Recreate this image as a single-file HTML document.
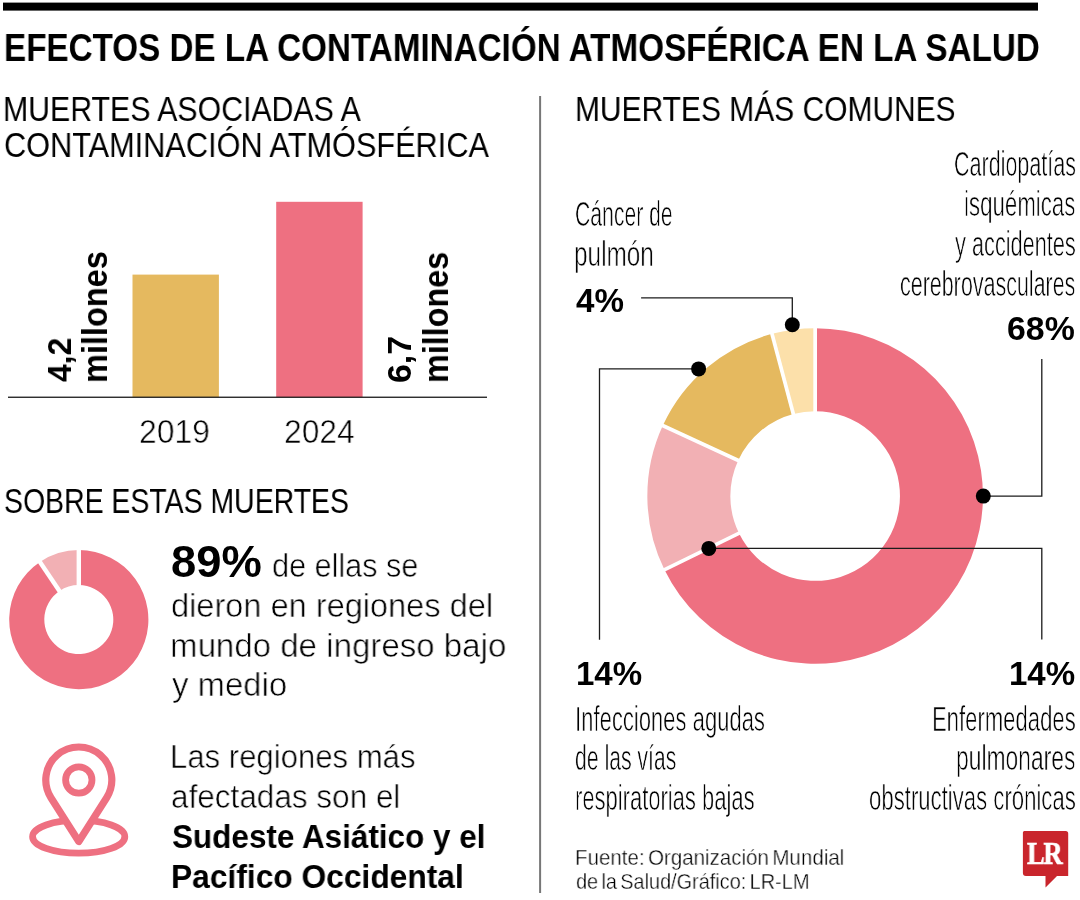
<!DOCTYPE html>
<html lang="es"><head><meta charset="utf-8"><title>Efectos de la contaminación atmosférica en la salud</title>
<style>
html,body{margin:0;padding:0;background:#fff}
body{width:1080px;height:900px;position:relative;overflow:hidden;font-family:"Liberation Sans",sans-serif;color:#000}
.t{position:absolute;white-space:nowrap;transform-origin:0 0;margin:0;padding:0;will-change:transform;-webkit-font-smoothing:antialiased}
.b{font-weight:700}
.l{-webkit-text-stroke:0.6px #fff}
.c{-webkit-text-stroke:0.7px #fff}
.m{-webkit-text-stroke:0.4px #fff}
svg{position:absolute;left:0;top:0}
</style></head><body>

<svg width="1080" height="900" viewBox="0 0 1080 900">
<rect x="3" y="2.6" width="1035" height="8" fill="#000"/>
<rect x="539.1" y="96" width="2" height="797" fill="#777"/>
<rect x="132.5" y="274.6" width="86.4" height="122.6" fill="#e5b95f"/>
<rect x="276.2" y="201.8" width="86.4" height="195.4" fill="#ee7081"/>
<rect x="8" y="396.6" width="479" height="1.3" fill="#1a1a1a"/>
<path d="M815.15 328.20A167.8 167.8 0 1 1 664.46 569.82L739.00 533.31A84.8 84.8 0 1 0 815.15 411.20Z" fill="#ee7081"/>
<path d="M664.46 569.82A167.8 167.8 0 0 1 662.82 425.62L738.17 460.43A84.8 84.8 0 0 0 739.00 533.31Z" fill="#f2b0b4"/>
<path d="M662.82 425.62A167.8 167.8 0 0 1 772.00 333.84L793.35 414.05A84.8 84.8 0 0 0 738.17 460.43Z" fill="#e5b95f"/>
<path d="M772.00 333.84A167.8 167.8 0 0 1 815.15 328.20L815.15 411.20A84.8 84.8 0 0 0 793.35 414.05Z" fill="#fce0aa"/>
<line x1="815.15" y1="413.20" x2="815.15" y2="326.20" stroke="#fff" stroke-width="3.7"/>
<line x1="740.79" y1="532.43" x2="662.66" y2="570.70" stroke="#fff" stroke-width="3.7"/>
<line x1="739.99" y1="461.27" x2="661.01" y2="424.78" stroke="#fff" stroke-width="3.7"/>
<line x1="793.86" y1="415.98" x2="771.49" y2="331.91" stroke="#fff" stroke-width="3.7"/>
<path d="M78.80 550.00A69.6 69.6 0 1 1 39.88 561.90L59.51 591.00A34.5 34.5 0 1 0 78.80 585.10Z" fill="#ee7081"/>
<path d="M39.88 561.90A69.6 69.6 0 0 1 78.80 550.00L78.80 585.10A34.5 34.5 0 0 0 59.51 591.00Z" fill="#f2b0b4"/>
<line x1="78.80" y1="587.10" x2="78.80" y2="548.00" stroke="#fff" stroke-width="4.4"/>
<line x1="60.63" y1="592.66" x2="38.76" y2="560.24" stroke="#fff" stroke-width="4.4"/>
<path d="M641.1 297.9H792.3V324.8" fill="none" stroke="#1c1c1c" stroke-width="1.3"/>
<path d="M698.6 368.9H599.5V639.7" fill="none" stroke="#1c1c1c" stroke-width="1.3"/>
<path d="M1041.8 358.9V496.2H983.3" fill="none" stroke="#1c1c1c" stroke-width="1.3"/>
<path d="M708.8 548.4H1041.8V639.5" fill="none" stroke="#1c1c1c" stroke-width="1.3"/>
<circle cx="792.3" cy="324.8" r="7.5" fill="#000"/>
<circle cx="698.6" cy="368.9" r="7.5" fill="#000"/>
<circle cx="983.3" cy="496.1" r="7.5" fill="#000"/>
<circle cx="708.8" cy="548.4" r="7.5" fill="#000"/>
<ellipse cx="78.7" cy="836.7" rx="46.1" ry="16.5" fill="none" stroke="#ee7081" stroke-width="6.8"/>
<path d="M78.8 841.5 L50.95 797.7 A33 33 0 1 1 106.65 797.7 Z" fill="#fff" stroke="#ee7081" stroke-width="7.2" stroke-linejoin="round"/>
<circle cx="78.8" cy="780" r="13.2" fill="none" stroke="#ee7081" stroke-width="6.8"/>
<path d="M1024.4 831.1H1065.7Q1068.2 831.1 1068.2 833.6V876.1H1057L1045.5 887.5V876.1H1025.9Q1022.9 876.1 1022.9 873.1V832.6Q1022.9 831.1 1024.4 831.1Z" fill="#c9252c"/>
</svg>
<div class="t b" style="left:4.20px;top:26px;font-size:39.2px;line-height:43px;transform:scaleX(0.8476)">EFECTOS DE LA CONTAMINACIÓN ATMOSFÉRICA EN LA SALUD</div>
<div class="t" style="left:3.13px;top:90px;font-size:34.3px;line-height:38px;transform:scaleX(0.8826)">MUERTES ASOCIADAS A</div>
<div class="t" style="left:4.01px;top:126px;font-size:34.3px;line-height:38px;transform:scaleX(0.8950)">CONTAMINACIÓN ATMÓSFÉRICA</div>
<div class="t" style="left:575.15px;top:90px;font-size:34.3px;line-height:38px;transform:scaleX(0.8735)">MUERTES MÁS COMUNES</div>
<div class="t l" style="left:138.95px;top:413px;font-size:33.5px;line-height:37px;transform:scaleX(0.9506)">2019</div>
<div class="t l" style="left:284.05px;top:413px;font-size:33.5px;line-height:37px;transform:scaleX(0.9479)">2024</div>
<div class="t" style="left:4.07px;top:482px;font-size:34.3px;line-height:38px;transform:scaleX(0.8290)">SOBRE ESTAS MUERTES</div>
<div class="t b" style="left:171.26px;top:538px;font-size:43.5px;line-height:48px;transform:scaleX(1.0422)">89%</div>
<div class="t l" style="left:271.79px;top:547px;font-size:33.5px;line-height:37px;transform:scaleX(0.9134)">de ellas se</div>
<div class="t l" style="left:170.73px;top:587px;font-size:33.5px;line-height:37px;transform:scaleX(0.9715)">dieron en regiones del</div>
<div class="t l" style="left:169.73px;top:627px;font-size:33.5px;line-height:37px;transform:scaleX(0.9867)">mundo de ingreso bajo</div>
<div class="t l" style="left:171.70px;top:666px;font-size:33.5px;line-height:37px;transform:scaleX(0.9813)">y medio</div>
<div class="t l" style="left:169.84px;top:738px;font-size:33.5px;line-height:37px;transform:scaleX(0.9283)">Las regiones más</div>
<div class="t l" style="left:170.76px;top:778px;font-size:33.5px;line-height:37px;transform:scaleX(0.9402)">afectadas son el</div>
<div class="t b" style="left:172.40px;top:818px;font-size:33.5px;line-height:37px;transform:scaleX(0.9388)">Sudeste Asiático y el</div>
<div class="t b" style="left:171.31px;top:858px;font-size:33.5px;line-height:37px;transform:scaleX(0.9473)">Pacífico Occidental</div>
<div class="t c" style="left:575.18px;top:194px;font-size:35px;line-height:39px;transform:scaleX(0.6046)">Cáncer de</div>
<div class="t c" style="left:574.39px;top:234px;font-size:35px;line-height:39px;transform:scaleX(0.6956)">pulmón</div>
<div class="t b" style="left:575.60px;top:283px;font-size:32.5px;line-height:36px;transform:scaleX(1.0194)">4%</div>
<div class="t c" style="left:953.57px;top:144px;font-size:35px;line-height:39px;transform:scaleX(0.6146)">Cardiopatías</div>
<div class="t c" style="left:964.11px;top:184px;font-size:35px;line-height:39px;transform:scaleX(0.6365)">isquémicas</div>
<div class="t c" style="left:954.78px;top:224px;font-size:35px;line-height:39px;transform:scaleX(0.6206)">y accidentes</div>
<div class="t c" style="left:900.17px;top:264px;font-size:35px;line-height:39px;transform:scaleX(0.6132)">cerebrovasculares</div>
<div class="t b" style="left:1007.06px;top:311px;font-size:32.5px;line-height:36px;transform:scaleX(1.0411)">68%</div>
<div class="t b" style="left:576.17px;top:656px;font-size:32.5px;line-height:36px;transform:scaleX(1.0164)">14%</div>
<div class="t c" style="left:574.59px;top:699px;font-size:35px;line-height:39px;transform:scaleX(0.6298)">Infecciones agudas</div>
<div class="t c" style="left:575.17px;top:738px;font-size:35px;line-height:39px;transform:scaleX(0.6057)">de las vías</div>
<div class="t c" style="left:574.52px;top:778px;font-size:35px;line-height:39px;transform:scaleX(0.6281)">respiratorias bajas</div>
<div class="t b" style="left:1008.67px;top:656px;font-size:32.5px;line-height:36px;transform:scaleX(1.0164)">14%</div>
<div class="t c" style="left:931.92px;top:699px;font-size:35px;line-height:39px;transform:scaleX(0.6309)">Enfermedades</div>
<div class="t c" style="left:956.17px;top:738px;font-size:35px;line-height:39px;transform:scaleX(0.6527)">pulmonares</div>
<div class="t c" style="left:868.75px;top:778px;font-size:35px;line-height:39px;transform:scaleX(0.6328)">obstructivas crónicas</div>
<div class="t m" style="left:574.89px;top:845px;font-size:22.5px;line-height:25px;word-spacing:-2.5px;transform:scaleX(0.9121)">Fuente: Organización Mundial</div>
<div class="t m" style="left:575.80px;top:869px;font-size:22.5px;line-height:25px;word-spacing:-2.5px;transform:scaleX(0.8843)">de la Salud/Gráfico: LR-LM</div>
<div class="t b" style="left:41px;top:381.80px;font-size:33px;line-height:37px;transform:rotate(-90deg) scaleX(0.9666)">4,2</div>
<div class="t b" style="left:76px;top:383.08px;font-size:34.5px;line-height:38px;transform:rotate(-90deg) scaleX(0.9424)">millones</div>
<div class="t b" style="left:381px;top:383.03px;font-size:33px;line-height:37px;transform:rotate(-90deg) scaleX(1.0271)">6,7</div>
<div class="t b" style="left:417px;top:382.57px;font-size:34.5px;line-height:38px;transform:rotate(-90deg) scaleX(0.9373)">millones</div>
<div class="t b" style="left:1027.2px;top:834.7px;font-family:'Liberation Serif',serif;font-size:32px;line-height:36px;color:#fff;-webkit-text-stroke:0.7px #fff;letter-spacing:-1.5px;transform:scaleX(0.83)">LR</div>
</body></html>
